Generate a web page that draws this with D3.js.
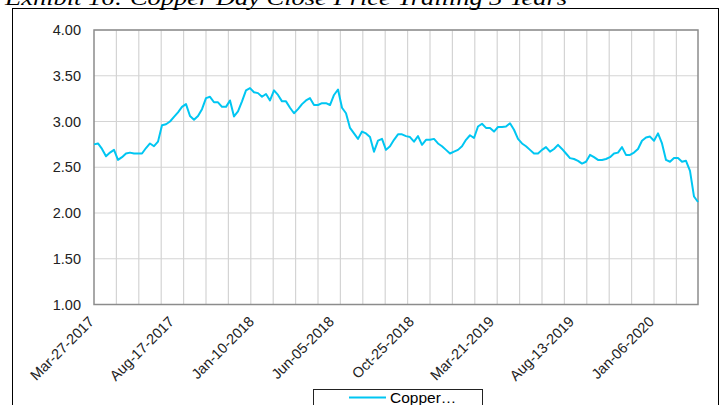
<!DOCTYPE html>
<html>
<head>
<meta charset="utf-8">
<script src="https://cdn.jsdelivr.net/npm/d3@7"></script>
<style>
  body { margin: 0; background: #fff; }
  svg { display: block; }
</style>
</head>
<body>
<svg width="722" height="405"></svg>
<script>
// copper close, one reading every 5 trading days
const dayStep = 5;
const prices = [
  2.75, 2.76, 2.70, 2.62, 2.66, 2.69, 2.58, 2.61, 2.65, 2.66,
  2.65, 2.65, 2.65, 2.71, 2.76, 2.73, 2.78, 2.96, 2.97, 3.00,
  3.05, 3.10, 3.16, 3.19, 3.06, 3.02, 3.06, 3.135, 3.255, 3.27,
  3.21, 3.21, 3.16, 3.16, 3.23, 3.055, 3.11, 3.22, 3.34, 3.365,
  3.32, 3.31, 3.27, 3.30, 3.23, 3.34, 3.29, 3.22, 3.22, 3.15,
  3.09, 3.135, 3.19, 3.23, 3.255, 3.18, 3.18, 3.20, 3.20, 3.18,
  3.29, 3.35, 3.15, 3.09, 2.93, 2.87, 2.81, 2.89, 2.87, 2.83,
  2.67, 2.79, 2.81, 2.69, 2.73, 2.80, 2.86, 2.86, 2.84, 2.83,
  2.78, 2.84, 2.745, 2.80, 2.80, 2.81, 2.76, 2.73, 2.69, 2.65,
  2.67, 2.69, 2.73, 2.80, 2.85, 2.82, 2.945, 2.975, 2.93, 2.93,
  2.89, 2.94, 2.94, 2.945, 2.98, 2.91, 2.81, 2.76, 2.73, 2.69,
  2.65, 2.65, 2.69, 2.72, 2.67, 2.70, 2.745, 2.70, 2.65, 2.60,
  2.59, 2.57, 2.54, 2.56, 2.635, 2.61, 2.58, 2.58, 2.59, 2.61,
  2.65, 2.66, 2.72, 2.635, 2.635, 2.66, 2.70, 2.79, 2.825, 2.835,
  2.79, 2.87, 2.76, 2.58, 2.56, 2.60, 2.60, 2.56, 2.57, 2.46,
  2.18, 2.12
];
const tickDays = [0, 100, 200, 300, 400, 500, 600, 700];
const tickLabels = ['Mar-27-2017', 'Aug-17-2017', 'Jan-10-2018', 'Jun-05-2018',
  'Oct-25-2018', 'Mar-21-2019', 'Aug-13-2019', 'Jan-06-2020'];
const yTicks = [1, 1.5, 2, 2.5, 3, 3.5, 4];
const gridStep = 28;
const lastDay = 755;

(function () {
  const svg = d3.select('svg');
  const font = 'Liberation Sans, Arial, sans-serif';

  // plot box
  const left = 94, right = 698, top = 30, bottom = 304.5;

  const x = d3.scaleLinear().domain([0, lastDay]).range([left, right]);
  const y = d3.scaleLinear().domain([1, 4]).range([bottom, top]);

  // title, cut off at the top of the picture
  svg.append('text')
    .attr('x', 5)
    .attr('y', 5)
    .attr('font-family', 'Liberation Serif, Times New Roman, serif')
    .attr('font-style', 'italic')
    .attr('font-size', 21)
    .attr('textLength', 562)
    .attr('lengthAdjust', 'spacingAndGlyphs')
    .attr('fill', '#000')
    .text('Exhibit 16: Copper Day Close Price Trailing 3 Years');

  // outer frame of the chart
  svg.append('rect')
    .attr('x', 12.5)
    .attr('y', 8.5)
    .attr('width', 706)
    .attr('height', 420)
    .attr('fill', 'none')
    .attr('stroke', '#000')
    .attr('stroke-width', 1);

  const g = svg.append('g');

  // grid
  g.selectAll('.hgrid')
    .data(yTicks)
    .enter()
    .append('line')
    .attr('x1', left)
    .attr('x2', right)
    .attr('y1', d => y(d))
    .attr('y2', d => y(d))
    .attr('stroke', '#d4d4d4')
    .attr('stroke-width', 1.2);

  g.selectAll('.vgrid')
    .data(d3.range(gridStep, lastDay, gridStep))
    .enter()
    .append('line')
    .attr('x1', d => x(d))
    .attr('x2', d => x(d))
    .attr('y1', top)
    .attr('y2', bottom)
    .attr('stroke', '#d4d4d4')
    .attr('stroke-width', 1.2);

  // plot border
  g.append('rect')
    .attr('x', left)
    .attr('y', top)
    .attr('width', right - left)
    .attr('height', bottom - top)
    .attr('fill', 'none')
    .attr('stroke', '#8c8c8c')
    .attr('stroke-width', 1.5);

  // y labels
  g.selectAll('.ylab')
    .data(yTicks)
    .enter()
    .append('text')
    .attr('x', 81)
    .attr('y', d => y(d))
    .attr('dy', '0.35em')
    .attr('text-anchor', 'end')
    .attr('font-family', font)
    .attr('font-size', 14.5)
    .attr('fill', '#222')
    .text(d => d.toFixed(2));

  // x labels, rotated
  g.selectAll('.xlab')
    .data(tickDays)
    .enter()
    .append('text')
    .attr('transform', d => `translate(${x(d) + 1},${bottom + 18}) rotate(-45)`)
    .attr('text-anchor', 'end')
    .attr('font-family', font)
    .attr('font-size', 14.5)
    .attr('fill', '#222')
    .text((d, i) => tickLabels[i]);

  // the price line
  const line = d3.line()
    .x((d, i) => x(i * dayStep))
    .y(d => y(d));

  g.append('path')
    .datum(prices)
    .attr('d', line)
    .attr('fill', 'none')
    .attr('stroke', '#00c6f2')
    .attr('stroke-width', 2)
    .attr('stroke-linejoin', 'round');

  // legend, cut off at the bottom
  const lg = svg.append('g');
  lg.append('rect')
    .attr('x', 313.5)
    .attr('y', 389.5)
    .attr('width', 169)
    .attr('height', 40)
    .attr('fill', '#fff')
    .attr('stroke', '#222')
    .attr('stroke-width', 1);
  lg.append('line')
    .attr('x1', 349)
    .attr('x2', 386)
    .attr('y1', 397.5)
    .attr('y2', 397.5)
    .attr('stroke', '#00c6f2')
    .attr('stroke-width', 2);
  lg.append('text')
    .attr('x', 390)
    .attr('y', 403)
    .attr('font-family', font)
    .attr('font-size', 15.5)
    .attr('fill', '#000')
    .text('Copper…');
})();
</script>
</body>
</html>
